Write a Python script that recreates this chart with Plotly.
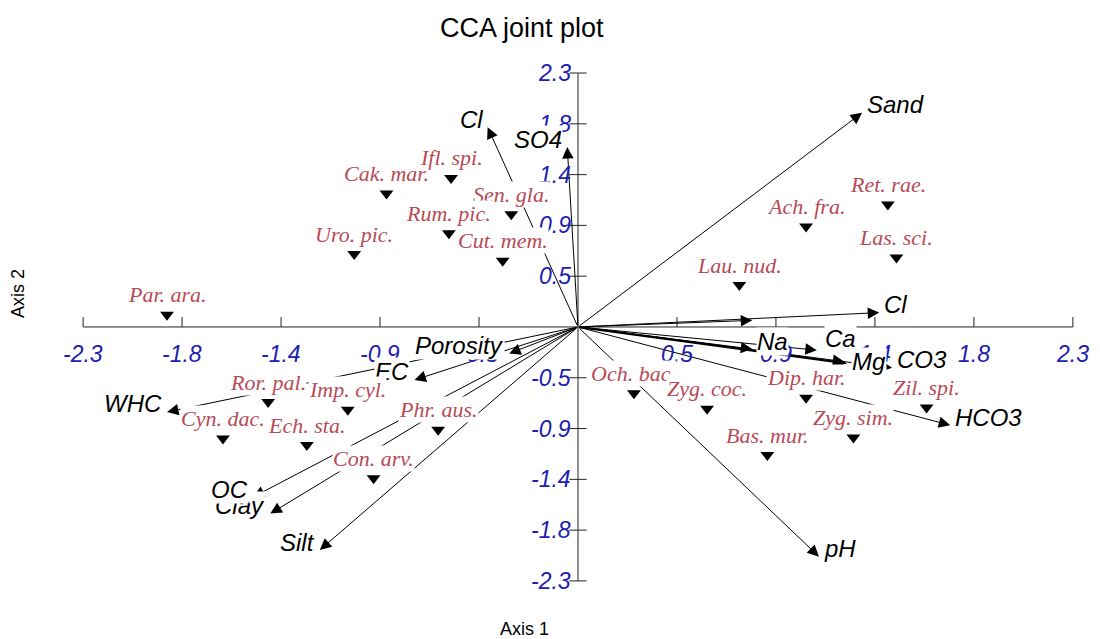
import plotly.graph_objects as go

# environmental variables: arrow tips (axis 1, axis 2 scores)
env_names = ["Sand", "Cl", "SO4", "", "Cl", "Na", "Ca", "Mg", "CO3", "HCO3", "pH",
             "Silt", "Clay", "OC", "WHC", "EC", "Porosity"]
env_x = [1.32, -0.42, -0.05, 0.81, 1.40, 0.81, 1.11, 1.25, 1.46, 1.73, 1.12,
         -1.20, -1.43, -1.51, -1.91, -0.76, -0.32]
env_y = [1.94, 1.81, 1.63, 0.06, 0.13, -0.20, -0.21, -0.33, -0.37, -0.89, -2.08,
         -2.02, -1.69, -1.54, -0.77, -0.48, -0.24]

# species scores
sp_names = ["Par. ara.", "Cak. mar.", "Ifl. spi.", "Sen. gla.", "Rum. pic.", "Uro. pic.",
            "Cut. mem.", "Ret. rae.", "Ach. fra.", "Las. sci.", "Lau. nud.", "Ror. pal.",
            "Imp. cyl.", "Cyn. dac.", "Ech. sta.", "Phr. aus.", "Con. arv.", "Och. bac.",
            "Zyg. coc.", "Dip. har.", "Zil. spi.", "Zyg. sim.", "Bas. mur."]
sp_x = [-1.91, -0.89, -0.59, -0.31, -0.60, -1.04, -0.35, 1.44, 1.06, 1.48, 0.75, -1.44,
        -1.07, -1.65, -1.26, -0.65, -0.95, 0.26, 0.60, 1.06, 1.62, 1.28, 0.88]
sp_y = [0.11, 1.21, 1.35, 1.02, 0.85, 0.66, 0.60, 1.11, 0.91, 0.63, 0.38, -0.68,
        -0.75, -1.01, -1.07, -0.93, -1.37, -0.60, -0.74, -0.64, -0.73, -1.00, -1.16]

# axis ticks
tick_vals = [-2.3, -1.84, -1.38, -0.92, -0.46, 0.46, 0.92, 1.38, 1.84, 2.3]
tick_text = ["-2.3", "-1.8", "-1.4", "-0.9", "-0.5", "0.5", "0.9", "1.4", "1.8", "2.3"]

SPECIES_RED = "#b84a57"
TICK_BLUE = "#2020b0"
SANS = "Liberation Sans, Arial"
thick = {"Mg"}
# label nudges (px) where labels crowd each other
label_shift = {"Mg": (0, 2), "Ca": (3, 12)}

fig = go.Figure()

# axis lines through the origin
lo, hi = tick_vals[0], tick_vals[-1]
fig.add_trace(go.Scatter(x=[lo, hi, None, 0, 0], y=[0, 0, None, lo, hi], mode="lines",
                         line=dict(color="#222", width=1), hoverinfo="skip"))

# tick marks: x ticks point up, y ticks cross the axis
tx, ty = [], []
for t in tick_vals:
    tx += [t, t, None]
    ty += [0, 0.09, None]
for t in tick_vals:
    tx += [-0.04, 0.04, None]
    ty += [t, t, None]
fig.add_trace(go.Scatter(x=tx, y=ty, mode="lines", line=dict(color="#222", width=1),
                         hoverinfo="skip"))

# species markers
fig.add_trace(go.Scatter(x=sp_x, y=sp_y, mode="markers",
                         marker=dict(symbol="triangle-down", size=12, color="black"),
                         hovertext=sp_names, hoverinfo="text"))

annotations = []

# environmental arrows
for name, x, y in zip(env_names, env_x, env_y):
    annotations.append(dict(x=x, y=y, ax=0, ay=0, xref="x", yref="y", axref="x", ayref="y",
                            text="", showarrow=True, arrowhead=2,
                            arrowsize=1.3 if name in thick else 2.3,
                            arrowwidth=2.2 if name in thick else 1, arrowcolor="black", standoff=0))

# tick labels
for t, lab in zip(tick_vals, tick_text):
    annotations.append(dict(x=t, y=0, xref="x", yref="y", text="<i>%s</i>" % lab, showarrow=False,
                            yshift=-27, xanchor="center", yanchor="middle",
                            font=dict(family=SANS, size=23, color=TICK_BLUE)))
    annotations.append(dict(x=0, y=t, xref="x", yref="y", text="<i>%s</i>" % lab, showarrow=False,
                            xshift=-5, xanchor="right", yanchor="middle",
                            font=dict(family=SANS, size=23, color=TICK_BLUE)))

# environmental labels (white boxes hide what is behind them)
for name, x, y in zip(env_names, env_x, env_y):
    if not name:
        continue
    right = x > 0
    dx, dy = label_shift.get(name, (0, 8))
    annotations.append(dict(x=x, y=y, xref="x", yref="y", text="<i>%s</i>" % name, showarrow=False,
                            xanchor="left" if right else "right",
                            xshift=(4 + dx) if right else -4 - dx,
                            yanchor="middle", yshift=dy, bgcolor="white", borderpad=0,
                            font=dict(family=SANS, size=24, color="black")))

# species labels
for name, x, y in zip(sp_names, sp_x, sp_y):
    annotations.append(dict(x=x, y=y, xref="x", yref="y", text="<i>%s</i>" % name, showarrow=False,
                            xanchor="center", yanchor="middle", yshift=20, bgcolor="white", borderpad=0,
                            font=dict(family="Liberation Serif, Times New Roman", size=22,
                                      color=SPECIES_RED)))

# titles
annotations.append(dict(x=0.471, y=0.968, xref="paper", yref="paper", text="CCA joint plot",
                        showarrow=False, xanchor="center", yanchor="middle",
                        font=dict(family=SANS, size=27, color="black")))
annotations.append(dict(x=0.473, y=0.016, xref="paper", yref="paper", text="Axis 1",
                        showarrow=False, xanchor="center", yanchor="middle",
                        font=dict(family=SANS, size=18, color="black")))
annotations.append(dict(x=0.009, y=0.548, xref="paper", yref="paper", text="Axis 2",
                        showarrow=False, textangle=-90, xanchor="center", yanchor="middle",
                        font=dict(family=SANS, size=18, color="black")))

# the page adds an 8px body margin, so the figure is 1092x631
fig.update_layout(
    width=1092, height=631,
    margin=dict(l=0, r=0, t=0, b=0),
    paper_bgcolor="white", plot_bgcolor="white",
    showlegend=False,
    xaxis=dict(range=[-2.649, 2.426], visible=False, fixedrange=True),
    yaxis=dict(range=[-2.826, 2.889], visible=False, fixedrange=True),
    annotations=annotations,
)

fig.write_html("out.html")
